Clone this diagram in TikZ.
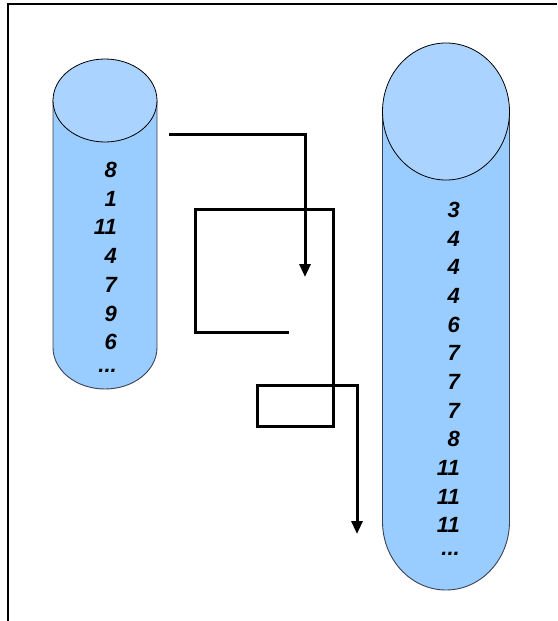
\documentclass[tikz,border=0pt]{standalone}
\usepackage{fontspec}
\setmainfont{Liberation Sans}
\usetikzlibrary{arrows.meta,shapes.geometric}
\definecolor{bodyblue}{HTML}{99CCFF}
\definecolor{topblue}{HTML}{AAD4FF}
\definecolor{edgegray}{HTML}{3C4050}
\newcommand{\threedots}{...}
\tikzset{
  frameline/.style={line width=2pt,black},
  cylbody/.style={fill=bodyblue,draw=edgegray,line width=0.9pt},
  cyltop/.style={fill=topblue,draw=black,line width=0.8pt},
  conn/.style={line width=3pt,black,miter limit=10},
  connarrow/.style={conn,-{Triangle[width=11pt,length=13pt]}},
  num/.style={anchor=east,inner sep=0pt,font=\fontsize{22}{22}\selectfont\bfseries\itshape}
}
\begin{document}
\begin{tikzpicture}[x=1pt,y=1pt]
\useasboundingbox (0,0) rectangle (557,-621);
% frame
\draw[frameline] (8,-621) -- (8,-4) -- (557,-4);
% left cylinder
\path[cylbody] (53,-100.5) -- (53,-347.5) arc[start angle=180,end angle=360,x radius=52,y radius=41.5] -- (157,-100.5) -- cycle;
\node[cyltop,ellipse,minimum width=104pt,minimum height=83pt,inner sep=0pt] (ltop) at (105,-100.5) {};
% right cylinder
\path[cylbody] (382.5,-111.5) -- (382.5,-521.5) arc[start angle=180,end angle=360,x radius=63.5,y radius=68.5] -- (509.5,-111.5) -- cycle;
\node[cyltop,ellipse,minimum width=127pt,minimum height=137pt,inner sep=0pt] (rtop) at (446,-111.5) {};
% left numbers
\foreach \t [count=\i from 0] in {8,1,11,4,7,9,6,\threedots}
  \node[num] (l\i) at (117,-170-28.7*\i) {\t};
% right numbers
\foreach \t [count=\i from 0] in {3,4,4,4,6,7,7,7,8,11,11,11,\threedots}
  \node[num] (r\i) at (460,-210-28.65*\i) {\t};
% connectors
\coordinate (a1s) at (169,-134);
\coordinate (a1c) at (305,-134);
\coordinate (a1e) at (305,-277);
\draw[connarrow] (a1s) -- (a1c) -- (a1e);
\coordinate (p0) at (289,-332);
\coordinate (p1) at (195,-332);
\coordinate (p2) at (195,-209);
\coordinate (p3) at (333,-209);
\coordinate (p4) at (333,-426);
\coordinate (p5) at (257,-426);
\coordinate (p6) at (257,-385);
\coordinate (p7) at (357,-385);
\coordinate (p8) at (357,-534);
\draw[connarrow] (p0) -- (p1) -- (p2) -- (p3) -- (p4) -- (p5) -- (p6) -- (p7) -- (p8);
\end{tikzpicture}
\end{document}
